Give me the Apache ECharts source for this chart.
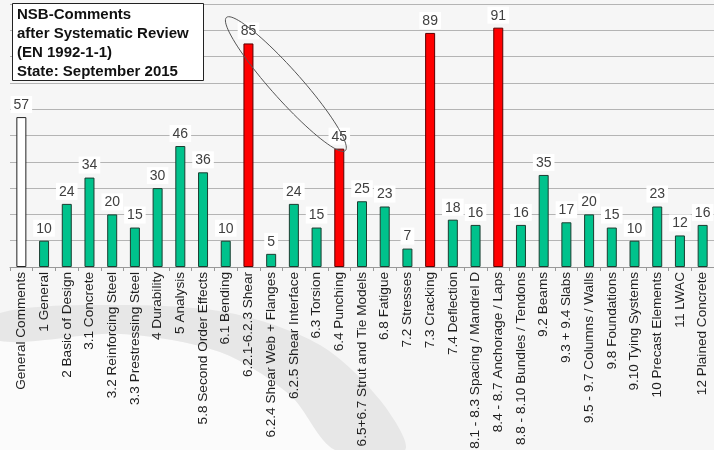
<!DOCTYPE html>
<html>
<head>
<meta charset="utf-8">
<script src="https://cdn.jsdelivr.net/npm/echarts@6/dist/echarts.min.js"></script>
<style>html,body{margin:0;padding:0;background:#f6f6f6;}#c{width:714px;height:450px;}</style>
</head>
<body>
<div id="c"></div>
<script>
const categories = ["General Comments","1 General","2 Basic of Design","3.1 Concrete","3.2 Reinforcing Steel","3.3 Prestressing Steel","4 Durability","5 Analysis","5.8 Second Order Effects","6.1 Bending","6.2.1-6.2.3 Shear","6.2.4 Shear Web + Flanges","6.2.5 Shear Interface","6.3 Torsion","6.4 Punching","6.5+6.7 Strut and Tie Models","6.8 Fatigue","7.2 Stresses","7.3 Cracking","7.4 Deflection","8.1 - 8.3 Spacing / Mandrel D","8.4 - 8.7 Anchorage / Laps","8.8 - 8.10 Bundles / Tendons","9.2 Beams","9.3 + 9.4 Slabs","9.5 - 9.7 Columns / Walls","9.8 Foundations","9.10 Tying Systems","10 Precast Elements","11 LWAC","12 Plained Concrete"];
const values = [57,10,24,34,20,15,30,46,36,10,85,5,24,15,45,25,23,7,89,18,16,91,16,35,17,20,15,10,23,12,16];
const groups = ["general","n","n","n","n","n","n","n","n","n","hot","n","n","n","hot","n","n","n","hot","n","n","hot","n","n","n","n","n","n","n","n","n"];
const titleLines = ["NSB-Comments","after Systematic Review","(EN 1992-1-1)","State: September 2015"];
const highlighted = ["6.2.1-6.2.3 Shear","6.4 Punching"];

const colorFor = {general:"#ffffff", n:"#00c28c", hot:"#ff0000"};
const borderFor = {general:"#222222", n:"#1b3d30", hot:"#5a0000"};

const baseGraphic = [
  {type: 'polygon', z: -11, silent: true,
    shape: {points: [[0,341],[120,334],[220,352],[290,395],[335,450],[0,450]], smooth: 0.3},
    style: {fill: '#fbfbfb'}},
  {type: 'polygon', z: -10, silent: true,
    shape: {points: [[0,313],[120,305],[230,313],[320,345],[380,400],[405,450],[335,450],[290,395],[220,352],[120,334],[0,341]], smooth: 0.3},
    style: {fill: '#e7e7e7'}},
  {type: 'rect', left: 12, top: 3, z: 100,
    shape: {width: 191, height: 77},
    style: {fill: '#ffffff', stroke: '#222222', lineWidth: 1}},
  {type: 'text', left: 17, top: 6, z: 101,
    style: {text: titleLines.join('\n'), font: 'bold 15px "Liberation Sans"', fill: '#111111', lineHeight: 18.7}}
];

const chart = echarts.init(document.getElementById('c'), null, {renderer:'canvas'});
const option = {
  backgroundColor: '#f6f6f6',
  animation: false,
  grid: {left: 10, right: 0, top: 4, bottom: 183, containLabel: false, outerBoundsMode: 'none'},
  xAxis: {
    type: 'category', data: categories,
    axisLine: {lineStyle: {color: '#999999', width: 1}},
    axisTick: {show: true, length: 4, lineStyle: {color: '#999999'}},
    axisLabel: {rotate: 90, interval: 0, margin: 5, fontFamily: 'Liberation Sans', fontSize: 13.6, color: '#1e1e1e'}
  },
  yAxis: {
    type: 'value', min: 0, max: 100, interval: 10,
    axisLabel: {show: false}, axisLine: {show: false}, axisTick: {show: false},
    splitLine: {lineStyle: {color: '#b4b4b4', width: 1}}
  },
  graphic: baseGraphic,
  series: [{
    type: 'bar',
    barWidth: 10,
    data: values.map((v, i) => ({
      value: v,
      itemStyle: {color: colorFor[groups[i]], borderColor: borderFor[groups[i]], borderWidth: 1}
    })),
    label: {
      show: true, position: 'top', distance: 4,
      fontFamily: 'Liberation Sans', fontSize: 14, color: '#404040',
      backgroundColor: '#ffffff', padding: [2, 3, 1, 3]
    }
  }]
};
chart.setOption(option);

// annotation ellipse round the two highlighted labels, positioned from the data
const i1 = categories.indexOf(highlighted[0]);
const i2 = categories.indexOf(highlighted[1]);
const p1 = chart.convertToPixel({gridIndex: 0}, [i1, values[i1]]);
const p2 = chart.convertToPixel({gridIndex: 0}, [i2, values[i2]]);
const e1 = [p1[0] - 22, p1[1] - 26];
const e2 = [p2[0] + 6, p2[1] + 2];
const cx = (e1[0] + e2[0]) / 2, cy = (e1[1] + e2[1]) / 2;
const dx = e2[0] - e1[0], dy = e2[1] - e1[1];
const rx = Math.sqrt(dx * dx + dy * dy) / 2;
const ry = 15;
const ang = Math.atan2(dy, dx);
const pts = [];
for (let k = 0; k < 90; k++) {
  const t = k / 90 * Math.PI * 2;
  const ex = rx * Math.cos(t), ey = ry * Math.sin(t);
  pts.push([cx + ex * Math.cos(ang) - ey * Math.sin(ang), cy + ex * Math.sin(ang) + ey * Math.cos(ang)]);
}
chart.setOption({
  graphic: baseGraphic.concat([
    {type: 'polygon', z: 100, silent: true,
      shape: {points: pts},
      style: {fill: 'none', stroke: '#555555', lineWidth: 1}}
  ])
}, {replaceMerge: ['graphic']});
</script>
</body>
</html>
